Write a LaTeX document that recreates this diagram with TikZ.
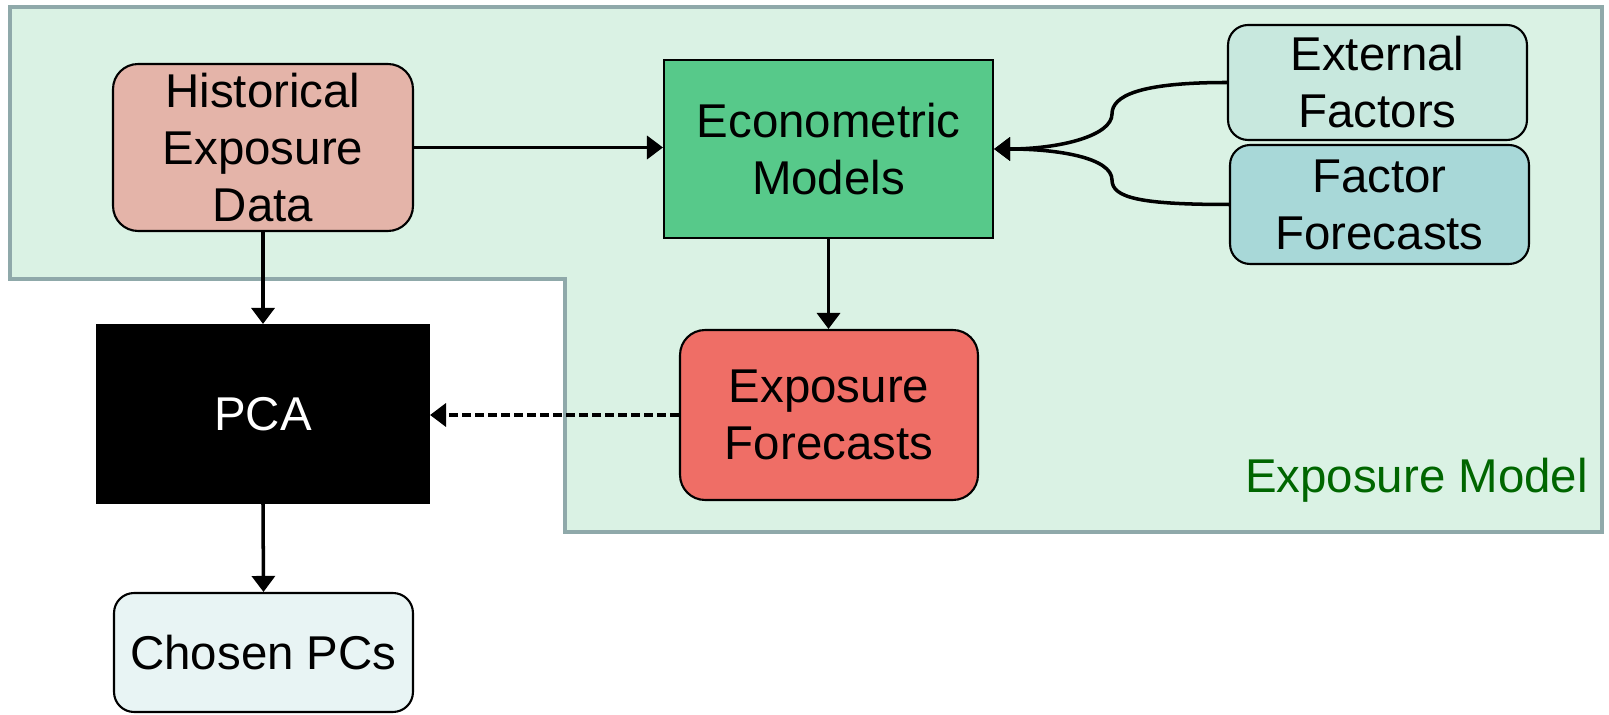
\documentclass[tikz,border=0pt]{standalone}
\usepackage{fontspec}
\setmainfont{Liberation Sans}
\usetikzlibrary{arrows.meta}
\definecolor{modelfill}{HTML}{DAF2E4}
\definecolor{modelline}{HTML}{8FA9AA}
\definecolor{histfill}{HTML}{E4B4A9}
\definecolor{econfill}{HTML}{57C98A}
\definecolor{extfill}{HTML}{C8E8DE}
\definecolor{ffcfill}{HTML}{A8D8D8}
\definecolor{expffill}{HTML}{EF6E66}
\definecolor{pcsfill}{HTML}{E8F4F4}
\definecolor{modeltext}{HTML}{006600}
\begin{document}
\begin{tikzpicture}[x=0.02cm, y=-0.02cm,
    every node/.style={font=\fontsize{27}{32.4}\selectfont, align=center},
    box/.style={draw=black, line width=1.2pt, inner sep=0pt},
    rbox/.style={box, rounded corners=0.5cm},
    arr/.style={line width=2pt, -{Triangle[length=0.32cm,width=0.46cm]}}]
    \useasboundingbox (0,0) rectangle (1609,715);

    \filldraw[fill=modelfill, draw=modelline, line width=2.6pt]
        (10,7) -- (1602,7) -- (1602,532) -- (565,532) -- (565,279) -- (10,279) -- cycle;
    \node[anchor=east, text=modeltext] (model) at (1594,480) {Exposure Model};

    \node[rbox, fill=histfill, minimum width=6cm, minimum height=3.34cm] (hist) at (263,147.5) {Historical\\Exposure\\Data};
    \node[box, fill=econfill, minimum width=6.58cm, minimum height=3.56cm] (econ) at (828.5,149) {Econometric\\Models};
    \node[rbox, fill=extfill, rounded corners=0.4cm, minimum width=5.98cm, minimum height=2.3cm] (ext) at (1377.5,82.5) {External\\Factors};
    \node[rbox, fill=ffcfill, rounded corners=0.4cm, minimum width=5.98cm, minimum height=2.38cm] (ffc) at (1379.5,204.5) {Factor\\Forecasts};
    \node[rbox, fill=expffill, minimum width=5.96cm, minimum height=3.4cm] (expf) at (829,415) {Exposure\\Forecasts};
    \node[box, fill=black, text=white, minimum width=6.64cm, minimum height=3.56cm] (pca) at (263,414) {PCA};
    \node[rbox, fill=pcsfill, rounded corners=0.4cm, minimum width=5.98cm, minimum height=2.38cm] (pcs) at (263.5,652.5) {Chosen PCs};

    \draw[arr] (hist.east) -- (hist.east -| econ.west);
    \draw[arr] (hist.south) -- (pca.north);
    \draw[arr] (econ.south) -- (econ.south |- expf.north);
    \draw[arr, dash pattern=on 0.18cm off 0.08cm] (expf.west) -- (expf.west -| pca.east);
    \draw[arr] (pca.south) -- (pcs.north);

    \draw[arr] (ext.west) .. controls +(-88,0) and +(0,-18) .. (1112,114) .. controls +(0,22) and +(65,0) .. (econ.east);
    \draw[arr] (ffc.west) .. controls +(-88,0) and +(0,18) .. (1112,180) .. controls +(0,-22) and +(65,0) .. (econ.east);
\end{tikzpicture}
\end{document}
